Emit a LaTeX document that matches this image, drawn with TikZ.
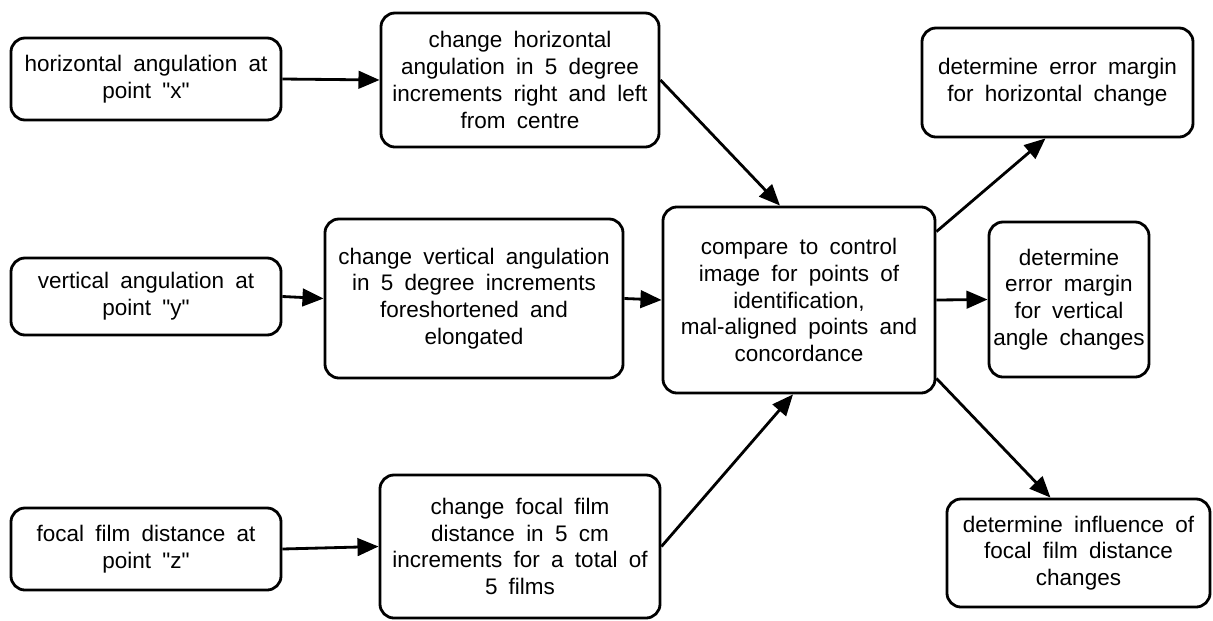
\documentclass[tikz,border=0pt]{standalone}
\usepackage{fontspec}
\setmainfont{Liberation Sans}
\usetikzlibrary{arrows.meta,calc}

% box text: 16pt with wide word gaps
\protected\def\boxfont{\fontsize{16}{19}\selectfont\spaceskip=0.5em plus 0.1em\relax}
\newcommand\qt[1]{\textquotedbl#1\textquotedbl}

\begin{document}
\begin{tikzpicture}[x=0.025cm,y=-0.025cm,
    box/.style={draw,line width=2pt,rounded corners=10pt,align=center,inner sep=2pt,
      font=\boxfont},
    link/.style={line width=2pt,-{Triangle[length=15pt,width=12.5pt]}}]
  \useasboundingbox (0,0) rectangle (1213,620);

  % the three settings that get varied
  \node[box,minimum width=6.75cm,minimum height=2.05cm] (hx) at (146,79)
    {horizontal angulation at\\point \qt{x}};
  \node[box,minimum width=6.75cm,minimum height=1.925cm] (hy) at (146,296.5)
    {vertical angulation at\\point \qt{y}};
  \node[box,minimum width=6.75cm,minimum height=2.05cm] (hz) at (146,549)
    {focal film distance at\\point \qt{z}};

  % how each one is changed
  \node[box,minimum width=6.95cm,minimum height=3.35cm] (chx) at (520,80)
    {change horizontal\\angulation in 5 degree\\increments right and left\\from centre};
  \node[box,minimum width=7.45cm,minimum height=3.975cm] (cv) at (474,298.5)
    {change vertical angulation\\in 5 degree increments\\foreshortened and\\elongated};
  \node[box,minimum width=7cm,minimum height=3.575cm] (chf) at (520,546.5)
    {change focal film\\distance in 5 cm\\increments for a total of\\5 films};

  \node[box,minimum width=6.8cm,minimum height=4.65cm] (cmp) at (799,300)
    {compare to control\\image for points of\\identification,\\mal-aligned points and\\concordance};

  % results
  \node[box,minimum width=6.775cm,minimum height=2.725cm] (eh) at (1057.5,82.5)
    {determine error margin\\for horizontal change};
  \node[box,minimum width=4cm,minimum height=3.875cm] (ev) at (1069,299.5)
    {determine\\error margin\\for vertical\\angle changes};
  \node[box,minimum width=6.575cm,minimum height=2.7cm] (ef) at (1078.5,553)
    {determine influence of\\focal film distance\\changes};

  \foreach \a/\b in {hx/chx,hy/cv,hz/chf,cv/cmp,cmp/ev}
    {\draw[link] (\a.east) -- (\b.west);}

  \draw[link] (chx.east) -- ($(cmp.north)+(-19,0)$);
  \draw[link] (chf.east) -- ($(cmp.south)+(-6,0)$);
  \draw[link] ($(cmp.north east)+(0,26)$) -- ($(eh.south)+(-12,0)$);
  \draw[link] ($(cmp.south east)+(0,-16)$) -- ($(ef.north)+(-28,0)$);
\end{tikzpicture}
\end{document}
